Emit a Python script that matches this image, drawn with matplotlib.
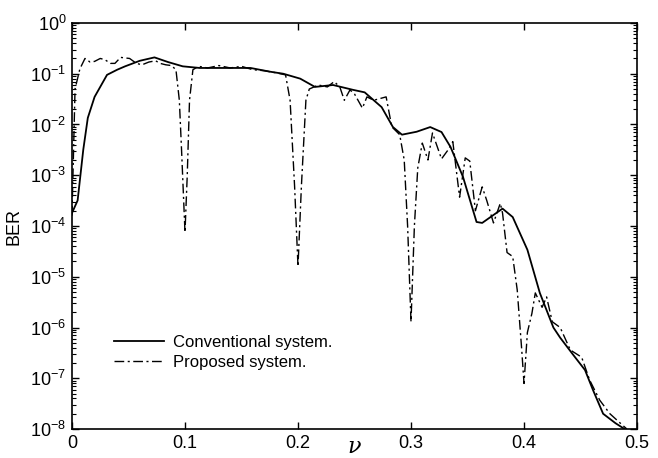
#!/usr/bin/env python3
"""
BER versus normalised frequency offset (nu): conventional vs proposed system
"""

import matplotlib
matplotlib.use('Agg')
import matplotlib.pyplot as plt
from matplotlib.ticker import LogLocator, NullFormatter, LogFormatterSciNotation

# Conventional system (solid curve)
nu_conv = [0.000, 0.005, 0.010, 0.014, 0.020, 0.031, 0.040, 0.047, 0.060, 0.073,
           0.085, 0.098, 0.113, 0.135, 0.158, 0.175, 0.187, 0.202, 0.215,
           0.231, 0.249, 0.259, 0.274, 0.284, 0.292, 0.305, 0.317, 0.327,
           0.335, 0.346, 0.358, 0.363, 0.373, 0.381, 0.390, 0.403, 0.414,
           0.426, 0.432, 0.443, 0.454, 0.461, 0.470, 0.481, 0.489]
ber_conv = [1.8e-4, 3.2e-4, 3.2e-3, 1.35e-2, 3.5e-2, 9.5e-2, 1.2e-1, 1.4e-1, 1.8e-1, 2.1e-1,
            1.7e-1, 1.4e-1, 1.3e-1, 1.3e-1, 1.3e-1, 1.1e-1, 1.0e-1, 8.0e-2, 5.5e-2,
            6.0e-2, 4.8e-2, 4.3e-2, 2.2e-2, 8.9e-3, 6.3e-3, 7.2e-3, 8.9e-3, 7.1e-3,
            3.6e-3, 9.3e-4, 1.2e-4, 1.15e-4, 1.65e-4, 2.2e-4, 1.5e-4, 3.4e-5, 4.8e-6,
            1.0e-6, 6.3e-7, 3.0e-7, 1.45e-7, 5.9e-8, 2.0e-8, 1.3e-8, 1.0e-8]

# Proposed system (dash-dot curve)
nu_prop = [0.000, 0.0027, 0.007, 0.0115, 0.016, 0.020, 0.025, 0.029, 0.034,
           0.038, 0.043, 0.051, 0.057, 0.062, 0.068, 0.074, 0.078, 0.083,
           0.088, 0.092, 0.095, 0.097, 0.100, 0.102, 0.104, 0.107, 0.112,
           0.120, 0.130, 0.140, 0.150, 0.160, 0.170, 0.180, 0.189, 0.193,
           0.197, 0.200, 0.203, 0.207, 0.210, 0.218, 0.226, 0.232, 0.237,
           0.241, 0.246, 0.250, 0.257, 0.261, 0.267, 0.278, 0.283, 0.290,
           0.294, 0.297, 0.300, 0.303, 0.306, 0.310, 0.315, 0.319, 0.327,
           0.333, 0.337, 0.343, 0.348, 0.352, 0.357, 0.363, 0.367, 0.373,
           0.379, 0.381, 0.385, 0.390, 0.394, 0.398, 0.400, 0.403, 0.407,
           0.410, 0.416, 0.420, 0.425, 0.432, 0.441, 0.451, 0.458, 0.467,
           0.476, 0.487, 0.491]
ber_prop = [1.6e-4, 5e-2, 1.25e-1, 2.0e-1, 1.7e-1, 1.75e-1, 2.0e-1, 1.9e-1, 1.6e-1,
            1.6e-1, 2.1e-1, 2.0e-1, 1.6e-1, 1.5e-1, 1.7e-1, 1.8e-1, 1.6e-1, 1.5e-1,
            1.45e-1, 1.2e-1, 3e-2, 3e-3, 7.5e-5, 1e-3, 3e-2, 1.2e-1, 1.4e-1,
            1.3e-1, 1.45e-1, 1.3e-1, 1.4e-1, 1.2e-1, 1.15e-1, 1.05e-1, 9.5e-2, 3e-2,
            6e-4, 1.6e-5, 6e-4, 3e-2, 5e-2, 6e-2, 5.5e-2, 7e-2, 5.5e-2,
            3.0e-2, 4.8e-2, 4.0e-2, 2.1e-2, 3.5e-2, 3.0e-2, 3.5e-2, 9e-3, 6.3e-3,
            2e-3, 1e-4, 1.3e-6, 1e-4, 1.4e-3, 4.3e-3, 2e-3, 6.8e-3, 2.1e-3,
            3.2e-3, 4.6e-3, 3.7e-4, 2.2e-3, 1.9e-3, 2e-4, 5.9e-4, 3.2e-4, 1.15e-4,
            2.8e-4, 1.8e-4, 3e-5, 2.5e-5, 5.5e-6, 3.6e-7, 7.9e-8, 8e-7, 1.9e-6,
            4.8e-6, 2.5e-6, 4e-6, 1.3e-6, 1e-6, 3.6e-7, 2.6e-7, 9.3e-8, 3.7e-8,
            2.0e-8, 1.2e-8, 1.0e-8]

x_ticks = [0, 0.1, 0.2, 0.3, 0.4, 0.5]
x_tick_labels = ['0', '0.1', '0.2', '0.3', '0.4', '0.5']
y_ticks = [1e-8, 1e-7, 1e-6, 1e-5, 1e-4, 1e-3, 1e-2, 1e-1, 1e0]
legend_labels = ['Conventional system.', 'Proposed system.']

plt.rcParams.update({
    'font.family': ['Liberation Sans', 'DejaVu Sans'],
    'mathtext.fontset': 'custom',
    'mathtext.rm': 'Liberation Sans',
    'mathtext.it': 'Liberation Sans:italic',
    'xtick.direction': 'in',
    'ytick.direction': 'in',
    'xtick.top': True,
    'ytick.right': True,
})

fig = plt.figure(figsize=(6.58, 4.58), dpi=100)
ax = fig.add_axes([0.1094, 0.0633, 0.8587, 0.8865])

dashdot = (0, (7, 2.5, 1.5, 2.5))
ax.plot(nu_conv, ber_conv, color='black', linewidth=1.3, label=legend_labels[0])
ax.plot(nu_prop, ber_prop, color='black', linewidth=1.0, linestyle=dashdot,
        label=legend_labels[1])

ax.set_yscale('log')
ax.set_xlim(0, 0.5)
ax.set_ylim(1e-8, 1e0)

ax.set_xticks(x_ticks)
ax.set_xticklabels(x_tick_labels)
ax.set_yticks(y_ticks)
ax.yaxis.set_major_formatter(LogFormatterSciNotation())
ax.yaxis.set_minor_locator(LogLocator(base=10, subs=range(2, 10), numticks=12))
ax.yaxis.set_minor_formatter(NullFormatter())

ax.tick_params(axis='x', which='major', labelsize=13, length=5, width=1.0, pad=4)
ax.tick_params(axis='y', which='major', labelsize=13, length=5, width=1.0, pad=4)
ax.tick_params(axis='y', which='minor', length=3, width=0.8)
for spine in ax.spines.values():
    spine.set_linewidth(1.2)

ax.set_xlabel('ν', fontsize=16, fontstyle='italic', family='DejaVu Serif', va='center')
ax.xaxis.set_label_coords(0.5, -0.045)
ax.set_ylabel('BER', fontsize=13)
ax.yaxis.set_label_coords(-0.088, 0.5)

ax.legend(loc='upper left', bbox_to_anchor=(0.075, 0.232), frameon=False,
          fontsize=12, handlelength=3.0, handletextpad=0.5, borderpad=0,
          borderaxespad=0, labelspacing=0.3)

plt.savefig('out.png', dpi=100, facecolor='white')
